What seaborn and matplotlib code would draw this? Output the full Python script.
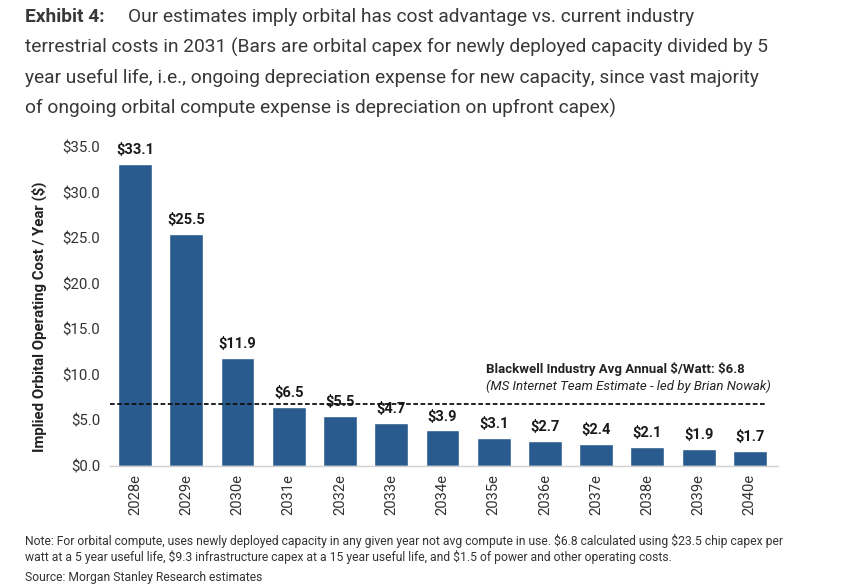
import matplotlib
matplotlib.use("Agg")
import matplotlib.pyplot as plt
import seaborn as sns
import pandas as pd

categories = ["2028e", "2029e", "2030e", "2031e", "2032e", "2033e", "2034e",
              "2035e", "2036e", "2037e", "2038e", "2039e", "2040e"]
values = [33.1, 25.5, 11.9, 6.5, 5.5, 4.7, 3.9, 3.1, 2.7, 2.4, 2.1, 1.9, 1.7]
benchmark = 6.8
yticks = [0, 5, 10, 15, 20, 25, 30, 35]

sns.set_theme(style="white")
plt.rcParams['font.family'] = ['Roboto', 'DejaVu Sans']
plt.rcParams['text.parse_math'] = False

df = pd.DataFrame({"year": categories, "value": values})

fig = plt.figure(figsize=(8.52, 5.88), dpi=100)
ax = fig.add_axes([110/852, (588-466)/588, (778-110)/852, (466-147)/588])

bar_color = "#2A5B8F"
sns.barplot(data=df, x="year", y="value", color=bar_color, width=0.66,
            saturation=1, ax=ax)

ax.set_xlim(-0.49, 12.55)
ax.set_ylim(0, 35)
ax.set_yticks(yticks)
ax.set_yticklabels([f"${t:.1f}" for t in yticks], fontsize=10.8, color="#333333")
ax.tick_params(axis="x", labelrotation=90, labelsize=10.6, colors="#333333", length=0, pad=6)
ax.tick_params(axis="y", length=0, pad=7)
ax.set_xlabel("")
ax.set_ylabel("Implied Orbital Operating Cost / Year ($)", fontsize=10.8,
              fontweight="bold", color="#222222")
ax.yaxis.set_label_coords((47 - 110) / 668, (466 - 317) / 319)
for s in ["top", "right", "left"]:
    ax.spines[s].set_visible(False)
ax.spines["bottom"].set_color("#d0d0d0")
ax.spines["bottom"].set_linewidth(1)

for i, v in enumerate(values):
    ax.annotate(f"${v:.1f}", (i, v), xytext=(0, 5), textcoords="offset points",
                ha="center", va="bottom", fontsize=10.5, fontweight="bold",
                color="#1a1a1a")

ax.axhline(benchmark, xmin=0, xmax=(767-110)/(778-110), color="#111111",
           linestyle=(0, (2.6, 1.4)), linewidth=1.3, zorder=5)

ax.text(6.85, 10.6, "Blackwell Industry Avg Annual $/Watt: $6.8", fontsize=9.5,
        fontweight="bold", color="#222222", ha="left", va="center")
ax.text(6.85, 8.75, "(MS Internet Team Estimate - led by Brian Nowak)", fontsize=9.5,
        fontstyle="italic", color="#222222", ha="left", va="center")

title_color = "#383838"
fs_title = 13.8
fig.text(25/852, 1 - 17/588, "Exhibit 4:", fontsize=fs_title, fontweight="bold",
         color=title_color, ha="left", va="center")
fig.text(128/852, 1 - 17/588, "Our estimates imply orbital has cost advantage vs. current industry",
         fontsize=fs_title, color=title_color, ha="left", va="center")
title_lines = [
    "terrestrial costs in 2031 (Bars are orbital capex for newly deployed capacity divided by 5",
    "year useful life, i.e., ongoing depreciation expense for new capacity, since vast majority",
    "of ongoing orbital compute expense is depreciation on upfront capex)",
]
for k, line in enumerate(title_lines):
    fig.text(25/852, 1 - (47 + 30.5*k)/588, line, fontsize=fs_title, color=title_color,
             ha="left", va="center")

note_font = ['Roboto', 'DejaVu Sans']
fig.text(25/852, 1 - 541/588,
         "Note: For orbital compute, uses newly deployed capacity in any given year not avg compute in use. $6.8 calculated using $23.5 chip capex per",
         fontsize=8.7, color="#333333", ha="left", va="center", family=note_font)
fig.text(25/852, 1 - 557/588,
         "watt at a 5 year useful life, $9.3 infrastructure capex at a 15 year useful life, and $1.5 of power and other operating costs.",
         fontsize=8.7, color="#333333", ha="left", va="center", family=note_font)
fig.text(25/852, 1 - 578/588, "Source: Morgan Stanley Research estimates",
         fontsize=8.7, color="#333333", ha="left", va="center", family=note_font)

fig.savefig("out.png", dpi=100)
